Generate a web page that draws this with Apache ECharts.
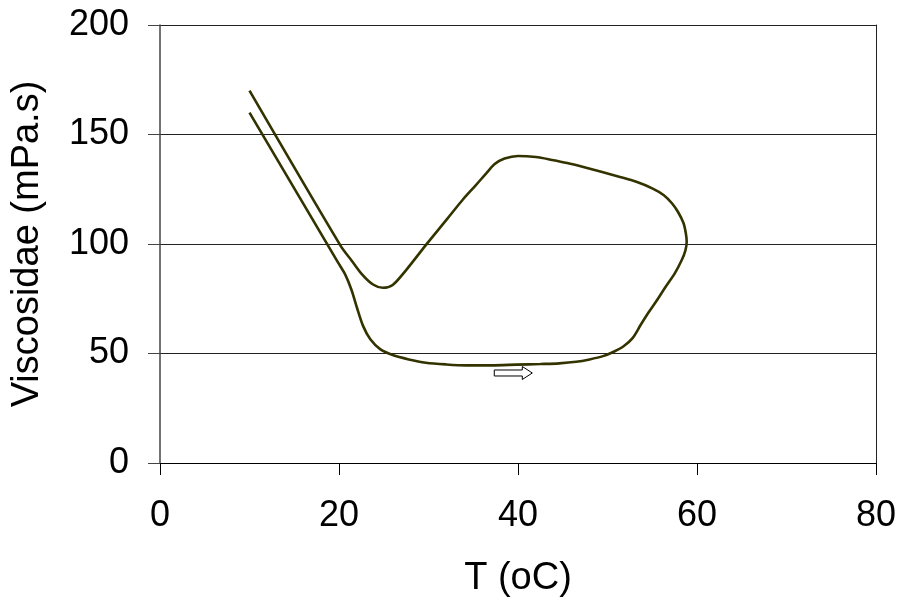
<!DOCTYPE html>
<html>
<head>
<meta charset="utf-8">
<script src="https://cdn.jsdelivr.net/npm/echarts@6/dist/echarts.min.js"></script>
<style>
html,body{margin:0;padding:0;background:#fff;}
#chart{width:899px;height:604px;}
</style>
</head>
<body>
<div id="chart"></div>
<script>
// Temperature (oC) along the measured loop
var tempC = [10, 19.9, 20.7, 21.4, 22, 22.7, 23.5, 24.6, 26, 27.8, 29.7, 32, 34.2, 37, 39.8, 42.5, 44.6, 46.5, 48, 49.5, 50.7, 51.8, 52.8, 53.7, 54.6, 55.6, 56.5, 57.5, 58.3, 58.7, 58.85, 58.75, 58.5, 57.9, 57.2, 56.3, 55, 53.3, 51.3, 49.3, 47.2, 45.5, 43.8, 42, 40, 38.5, 37.4, 36.5, 35.3, 33.8, 32, 29.7, 27.5, 26, 24.9, 23.8, 22.6, 21.4, 20.2, 10];
// Viscosity (mPa.s)
var viscosity = [160, 91.5, 86, 79, 71, 62.5, 56.5, 52, 49.3, 47.3, 45.8, 45, 44.6, 44.6, 44.9, 45.2, 45.5, 46.2, 47.3, 48.8, 50.8, 53.3, 57, 63, 68.8, 74.8, 80.5, 86.5, 92.7, 97, 101, 105, 109.5, 114.5, 118.6, 122.3, 125.4, 128.3, 130.7, 133, 135.3, 137, 138.4, 139.7, 140.2, 139, 136.5, 132.5, 126.9, 120.1, 111, 99.5, 88.1, 81.3, 80, 81.5, 86, 92.5, 99, 170];
// Direction arrow: [startT, endT, viscosity]
var arrowData = [[37.35, 41.6, 41.1]];
var xTicks = [0, 20, 40, 60, 80];
var yTicks = [0, 50, 100, 150, 200];

var font = 'Liberation Sans, Arial, sans-serif';
var pts = tempC.map(function (t, i) { return [t, viscosity[i]]; });

var chart = echarts.init(document.getElementById('chart'), null, {renderer: 'canvas'});
chart.setOption({
  animation: false,
  backgroundColor: '#fff',
  grid: {left: 160, right: 23, top: 25, bottom: 141, containLabel: false},
  xAxis: {
    type: 'value', min: xTicks[0], max: xTicks[xTicks.length - 1], interval: 20,
    name: 'T (oC)', nameLocation: 'middle', nameGap: 97,
    nameTextStyle: {fontFamily: font, fontSize: 38, color: '#000'},
    axisLine: {show: true, lineStyle: {color: '#000', width: 1}},
    axisTick: {show: true, length: 12, lineStyle: {color: '#000', width: 1}},
    axisLabel: {fontFamily: font, fontSize: 36, color: '#000', margin: 35},
    splitLine: {show: false}
  },
  yAxis: [{
    type: 'value', min: yTicks[0], max: yTicks[yTicks.length - 1], interval: 50,
    name: 'Viscosidae (mPa.s)', nameLocation: 'middle', nameGap: 113,
    nameTextStyle: {fontFamily: font, fontSize: 38, color: '#000'},
    axisLine: {show: true, lineStyle: {color: '#444', width: 1.5}},
    axisTick: {show: true, length: 12, lineStyle: {color: '#444', width: 1}},
    axisLabel: {fontFamily: font, fontSize: 36, color: '#000', margin: 31},
    splitLine: {show: true, lineStyle: {color: '#222', width: 1}}
  }, {
    type: 'value', min: yTicks[0], max: yTicks[yTicks.length - 1], position: 'right',
    axisLine: {show: true, lineStyle: {color: '#222', width: 1}},
    axisTick: {show: false}, axisLabel: {show: false}, splitLine: {show: false}
  }],
  series: [{
    type: 'line',
    data: pts,
    smooth: 0.3,
    showSymbol: false,
    symbol: 'none',
    lineStyle: {color: '#333300', width: 2.6},
    z: 3
  }, {
    type: 'custom',
    data: arrowData,
    renderItem: function (params, api) {
      var s = api.coord([api.value(0), api.value(2)]);
      var e = api.coord([api.value(1), api.value(2)]);
      var hl = 10, sh = 3, hh = 6.5;
      var y = s[1];
      return {
        type: 'polygon',
        shape: {points: [
          [s[0], y - sh], [e[0] - hl, y - sh], [e[0] - hl, y - hh], [e[0], y],
          [e[0] - hl, y + hh], [e[0] - hl, y + sh], [s[0], y + sh]
        ]},
        style: {fill: '#fff', stroke: '#000', lineWidth: 1}
      };
    },
    z: 4
  }]
});
</script>
</body>
</html>
